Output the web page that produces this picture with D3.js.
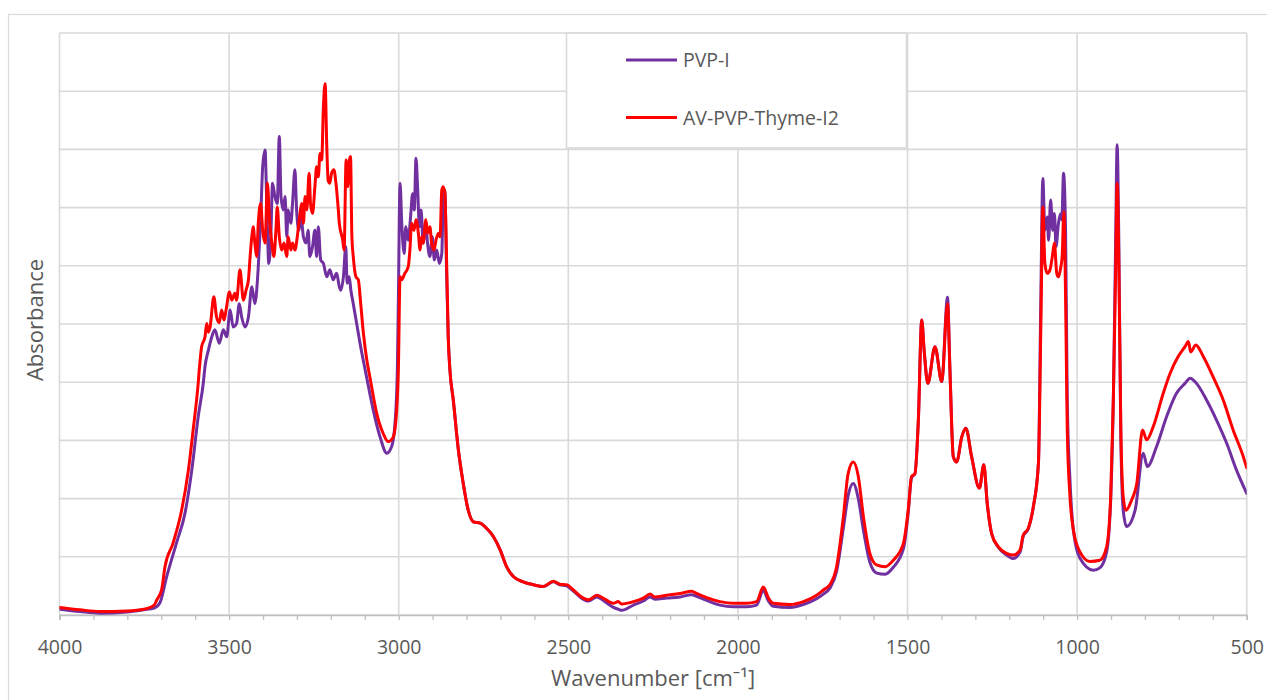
<!DOCTYPE html>
<html>
<head>
<meta charset="utf-8">
<script src="https://cdn.jsdelivr.net/npm/d3@7"></script>
<style>
  html, body { margin: 0; padding: 0; background: #ffffff; }
  svg { display: block; }
  text { font-family: "Open Sans", "Noto Sans", sans-serif; fill: #595959; }
</style>
</head>
<body>
<svg id="chart" width="1267" height="700"></svg>
<script>
// FTIR spectra: [wavenumber (cm-1), absorbance]
const pvpI = [
  [4000,.010],[3940,.006],[3881,.003],[3801,.005],[3751,.009],[3721,.012],[3704,.021],[3684,.066],
  [3655,.124],[3630,.175],[3610,.249],[3591,.341],[3576,.399],[3571,.427],[3561,.455],[3551,.478],
  [3542,.490],[3529,.467],[3517,.490],[3507,.478],[3497,.524],[3488,.495],[3478,.501],[3470,.535],
  [3463,.512],[3453,.495],[3443,.512],[3433,.564],[3424,.535],[3414,.598],[3407,.679],[3401,.770],
  [3394,.799],[3389,.707],[3383,.604],[3377,.650],[3372,.742],[3365,.719],[3358,.707],[3352,.822],
  [3347,.719],[3340,.696],[3335,.719],[3330,.650],[3326,.696],[3318,.673],[3313,.707],[3306,.765],
  [3301,.696],[3294,.661],[3288,.684],[3281,.650],[3273,.639],[3267,.661],[3262,.616],[3254,.633],
  [3247,.661],[3242,.616],[3237,.667],[3230,.610],[3222,.604],[3212,.581],[3203,.593],[3193,.576],
  [3183,.587],[3175,.564],[3171,.558],[3163,.581],[3156,.633],[3152,.570],[3146,.581],[3141,.558],
  [3134,.535],[3124,.501],[3114,.467],[3094,.407],[3075,.352],[3055,.306],[3035,.278],[3021,.289],
  [3011,.329],[3004,.421],[3001,.541],[2996,.742],[2991,.673],[2984,.621],[2979,.667],[2972,.644],
  [2965,.684],[2959,.724],[2954,.696],[2949,.785],[2944,.730],[2939,.667],[2934,.696],[2928,.639],
  [2920,.673],[2915,.639],[2908,.616],[2901,.650],[2895,.610],[2888,.627],[2880,.604],[2873,.621],
  [2869,.707],[2864,.730],[2859,.593],[2854,.478],[2849,.421],
  [2839,.369],[2824,.283],[2810,.227],[2795,.180],[2780,.160],[2760,.158],[2741,.149],[2721,.135],
  [2701,.112],[2682,.083],[2662,.066],[2633,.057],[2603,.052],[2574,.049],[2544,.057],[2525,.052],
  [2505,.050],[2485,.041],[2461,.029],[2441,.024],[2416,.031],[2397,.025],[2367,.013],[2353,.010],
  [2343,.008],[2308,.017],[2279,.024],[2259,.031],[2245,.027],[2210,.029],[2171,.031],[2136,.035],
  [2122,.032],[2092,.025],[2053,.017],[2014,.014],[1974,.014],[1945,.017],[1925,.042],[1910,.024],
  [1896,.015],[1846,.013],[1807,.018],[1768,.028],[1748,.036],[1729,.046],[1709,.075],[1689,.150],
  [1675,.205],[1660,.226],[1645,.200],[1630,.146],[1611,.091],[1591,.072],[1566,.070],[1542,.082],
  [1512,.114],[1498,.175],[1488,.236],[1478,.243],[1468,.335],[1458,.507],[1451,.455],[1440,.398],
  [1419,.461],[1399,.401],[1382,.546],[1375,.425],[1365,.272],[1355,.263],[1340,.306],[1328,.321],
  [1311,.272],[1288,.218],[1275,.258],[1265,.192],[1252,.140],[1232,.116],[1208,.103],[1188,.097],
  [1168,.108],[1159,.135],[1144,.148],[1129,.186],[1114,.261],[1107,.541],[1101,.750],[1095,.661],
  [1088,.684],[1084,.644],[1078,.713],[1072,.661],[1067,.690],[1062,.633],[1055,.673],[1048,.690],
  [1045,.679],[1040,.759],[1034,.661],[1029,.369],[1021,.232],[1011,.146],[992,.098],[952,.077],
  [933,.081],[913,.108],[901,.198],[893,.375],[886,.661],[882,.808],[877,.644],[871,.301],
  [864,.180],[854,.152],[829,.180],[805,.278],[793,.255],[766,.289],[736,.341],[707,.381],
  [682,.398],[667,.407],[648,.398],[618,.369],[589,.335],[559,.295],[530,.249],[500,.209]
];

const avPvpThymeI2 = [
  [4000,.013],[3940,.009],[3881,.006],[3801,.007],[3751,.010],[3721,.017],[3713,.026],[3699,.043],
  [3689,.083],[3665,.124],[3640,.180],[3620,.249],[3606,.318],[3591,.399],[3588,.421],[3581,.461],
  [3571,.478],[3566,.501],[3561,.486],[3556,.495],[3545,.547],[3537,.512],[3529,.502],[3522,.524],
  [3515,.507],[3509,.524],[3499,.555],[3492,.541],[3483,.553],[3478,.541],[3468,.593],[3458,.541],
  [3450,.558],[3443,.576],[3438,.616],[3433,.650],[3429,.667],[3424,.639],[3419,.616],[3414,.673],
  [3407,.707],[3401,.661],[3394,.639],[3387,.742],[3381,.679],[3374,.639],[3368,.616],[3362,.661],
  [3358,.701],[3352,.650],[3345,.627],[3338,.639],[3330,.616],[3326,.650],[3318,.627],[3313,.639],
  [3306,.627],[3299,.650],[3291,.690],[3286,.707],[3281,.673],[3276,.719],[3271,.696],[3264,.759],
  [3260,.707],[3254,.690],[3247,.736],[3242,.770],[3237,.753],[3232,.793],[3227,.782],[3222,.873],
  [3217,.913],[3212,.805],[3208,.747],[3203,.742],[3198,.759],[3191,.765],[3185,.742],[3178,.696],
  [3175,.673],[3165,.644],[3161,.627],[3155,.782],[3150,.736],[3147,.776],[3142,.788],[3138,.650],
  [3134,.616],[3126,.581],[3119,.576],[3112,.535],[3104,.484],[3094,.438],[3085,.409],[3065,.347],
  [3045,.311],[3031,.298],[3016,.306],[3006,.352],[3001,.421],[2996,.581],[2991,.576],[2982,.587],
  [2972,.598],[2967,.627],[2962,.673],[2955,.661],[2949,.679],[2942,.656],[2937,.627],[2932,.650],
  [2928,.639],[2920,.679],[2915,.656],[2908,.667],[2903,.639],[2896,.627],[2890,.644],[2883,.656],
  [2878,.650],[2873,.730],[2869,.736],[2864,.725],[2859,.616],[2854,.478],[2849,.421],
  [2839,.369],[2824,.283],[2810,.227],[2795,.180],[2780,.160],[2760,.158],[2741,.149],[2721,.135],
  [2701,.112],[2682,.083],[2662,.066],[2633,.057],[2603,.052],[2574,.049],[2544,.058],[2525,.053],
  [2505,.052],[2485,.043],[2461,.031],[2441,.026],[2416,.034],[2397,.029],[2367,.020],[2353,.023],
  [2343,.019],[2308,.023],[2279,.029],[2259,.036],[2245,.031],[2210,.034],[2171,.037],[2136,.041],
  [2122,.037],[2092,.030],[2053,.023],[2014,.020],[1974,.020],[1945,.023],[1925,.048],[1910,.029],
  [1896,.020],[1846,.018],[1807,.023],[1768,.034],[1748,.043],[1729,.052],[1709,.083],[1689,.169],
  [1675,.243],[1660,.263],[1645,.238],[1630,.169],[1611,.106],[1591,.086],[1566,.083],[1542,.094],
  [1512,.123],[1498,.180],[1488,.238],[1478,.243],[1468,.335],[1458,.507],[1451,.455],[1440,.398],
  [1419,.461],[1399,.401],[1382,.535],[1375,.421],[1365,.272],[1355,.263],[1340,.306],[1328,.321],
  [1311,.272],[1288,.218],[1275,.258],[1265,.192],[1252,.140],[1232,.117],[1208,.106],[1188,.103],
  [1168,.112],[1159,.137],[1144,.149],[1129,.186],[1114,.261],[1107,.490],[1101,.701],[1095,.604],
  [1088,.587],[1080,.593],[1073,.616],[1067,.639],[1060,.587],[1055,.581],[1048,.598],[1044,.616],
  [1039,.693],[1034,.547],[1029,.318],[1021,.203],[1011,.146],[992,.109],[962,.092],[933,.094],
  [913,.117],[901,.203],[893,.375],[886,.604],[882,.742],[877,.604],[871,.318],[864,.203],
  [856,.180],[839,.198],[824,.226],[807,.318],[795,.301],[776,.323],[746,.381],[726,.415],
  [702,.444],[682,.461],[672,.470],[665,.452],[650,.464],[628,.444],[599,.409],[569,.369],
  [540,.318],[510,.272],[500,.253]
];

const seriesNames = ["PVP-I", "AV-PVP-Thyme-I2"];
const seriesColors = ["#7030A0", "#FF0000"];
const xTicks = [4000, 3500, 3000, 2500, 2000, 1500, 1000, 500];
const xMinorTicks = d3.range(4000, 499, -100);
const yGrid = d3.range(0, 1.0001, 0.1);
const xTitle = "Wavenumber [cm\u207B\u00B9]";
const yTitle = "Absorbance";

const svg = d3.select("#chart");
const plot = { left: 59.5, top: 33, right: 1246.7, bottom: 615 };

const x = d3.scaleLinear().domain([4000, 500]).range([plot.left, plot.right]);
const y = d3.scaleLinear().domain([0, 1]).range([plot.bottom, plot.top]);

// outer chart frame
svg.append("rect")
  .attr("x", 8.5).attr("y", 14.5)
  .attr("width", 1300).attr("height", 700)
  .attr("fill", "#ffffff").attr("stroke", "#d9d9d9").attr("stroke-width", 1.2);

const grid = svg.append("g").attr("stroke", "#d9d9d9").attr("stroke-width", 1.6);
grid.selectAll("line.h").data(yGrid).join("line")
  .attr("class", "h")
  .attr("x1", plot.left).attr("x2", plot.right)
  .attr("y1", d => y(d)).attr("y2", d => y(d));
grid.selectAll("line.v").data(xTicks).join("line")
  .attr("class", "v")
  .attr("x1", d => x(d)).attr("x2", d => x(d))
  .attr("y1", plot.top).attr("y2", plot.bottom);

// bottom axis with minor ticks every 100 cm-1
const axis = d3.axisBottom(x).tickValues(xMinorTicks).tickSize(5).tickFormat("");
const axisG = svg.append("g").attr("transform", `translate(0,${plot.bottom})`).call(axis);
axisG.select(".domain").attr("stroke", "#bfbfbf").attr("stroke-width", 1.6);
axisG.selectAll(".tick line").attr("stroke", "#bfbfbf").attr("stroke-width", 1.3);

const labels = d3.axisBottom(x).tickValues(xTicks).tickSize(0).tickPadding(0).tickFormat(d3.format("d"));
const labelG = svg.append("g").attr("transform", `translate(0,${plot.bottom})`).call(labels);
labelG.select(".domain").remove();
labelG.selectAll(".tick text")
  .attr("y", 39).attr("dy", null)
  .style("font-family", "'Open Sans', sans-serif")
  .style("font-size", "19.5px").style("fill", "#595959");

// spectra
svg.append("clipPath").attr("id", "plotClip")
  .append("rect").attr("x", plot.left).attr("y", plot.top - 5)
  .attr("width", plot.right - plot.left).attr("height", plot.bottom - plot.top + 5);

const line = d3.line()
  .x(d => x(d[0])).y(d => y(d[1]))
  .curve(d3.curveMonotoneX);

const lines = svg.append("g").attr("clip-path", "url(#plotClip)");
[pvpI, avPvpThymeI2].forEach((data, i) => {
  lines.append("path")
    .datum(data)
    .attr("d", line)
    .attr("fill", "none")
    .attr("stroke", seriesColors[i])
    .attr("stroke-width", 3)
    .attr("stroke-linejoin", "round")
    .attr("stroke-linecap", "round");
});

// legend
const legend = svg.append("g");
legend.append("rect")
  .attr("x", 566.5).attr("y", 33).attr("width", 340).attr("height", 115)
  .attr("fill", "#ffffff").attr("stroke", "#d9d9d9").attr("stroke-width", 1.6);
seriesNames.forEach((name, i) => {
  const ly = 60 + i * 57.5;
  legend.append("line")
    .attr("x1", 626).attr("x2", 677).attr("y1", ly).attr("y2", ly)
    .attr("stroke", seriesColors[i]).attr("stroke-width", 3);
  legend.append("text")
    .attr("x", 683).attr("y", ly + 7)
    .style("font-size", "19.5px")
    .text(name);
});

// axis titles
svg.append("text")
  .attr("x", (plot.left + plot.right) / 2).attr("y", 686)
  .attr("text-anchor", "middle")
  .style("font-size", "22px")
  .text(xTitle);

svg.append("text")
  .attr("transform", `translate(43,${(plot.top + plot.bottom) / 2 - 4}) rotate(-90)`)
  .attr("text-anchor", "middle")
  .style("font-size", "22px")
  .text(yTitle);
</script>
</body>
</html>
